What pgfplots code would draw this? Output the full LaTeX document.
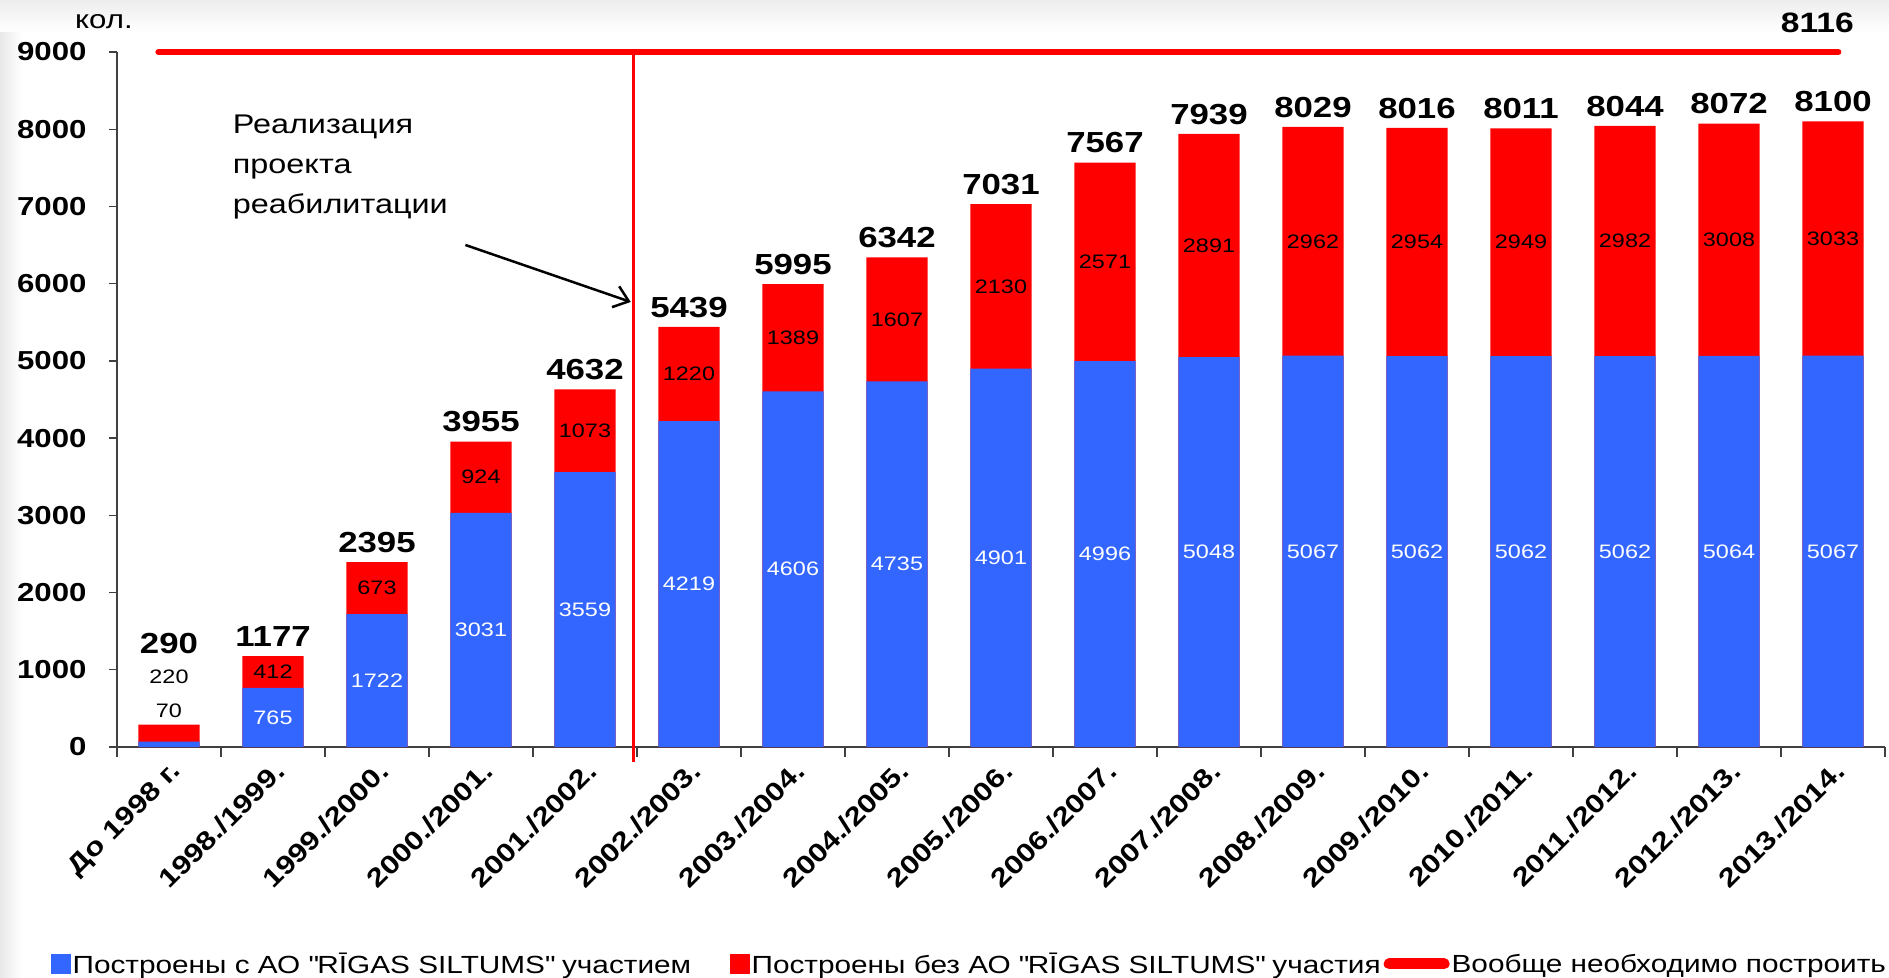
\documentclass[border=0pt]{standalone}
\usepackage{fontspec}
\setmainfont{Liberation Sans}[FakeStretch=1.2]
\usepackage{pgfplots}
\pgfplotsset{compat=1.18}
\usetikzlibrary{arrows.meta}
\definecolor{barblue}{RGB}{51,102,255}
\definecolor{barred}{RGB}{255,0,0}
\newcommand{\fs}[1]{\fontsize{#1}{#1}\selectfont}
\newcommand{\q}{\textquotedbl}
\begin{document}
\begin{tikzpicture}
\shade[left color=black!9, right color=white] (0pt,0pt) rectangle (22pt,977pt);
\shade[top color=black!7, bottom color=white] (0pt,945pt) rectangle (1889pt,977pt);
\begin{axis}[
  at={(117pt,230pt)}, anchor=south west,
  scale only axis, width=1768pt, height=695pt,
  xmin=-0.5, xmax=16.5, ymin=0, ymax=9000,
  ybar, bar width=0.59, bar shift=0pt,
  clip=false,
  axis x line*=bottom, axis y line*=left,
  axis line style={line width=1.6pt, black!75},
  ytick={0,1000,...,9000},
  yticklabel style={font=\bfseries\fs{26}, xshift=-19pt},
  /pgf/number format/assume math mode=true,
  /pgf/number format/1000 sep={},
  xtick={0,1,...,16},
  xticklabels={До 1998 г.,1998./1999.,1999./2000.,2000./2001.,2001./2002.,2002./2003.,2003./2004.,2004./2005.,2005./2006.,2006./2007.,2007./2008.,2008./2009.,2009./2010.,2010./2011.,2011./2012.,2012./2013.,2013./2014.},
  xticklabel style={font=\bfseries\fs{26}, rotate=45, anchor=north east},
  minor xtick={-0.5,0.5,...,16.5},
  major x tick style={draw=none},
  tick align=outside, major tick length=8pt, minor tick length=10pt,
  tick style={black!75, line width=1.4pt},
  legend style={draw=none, fill=none, at={(-0.039,-0.312)}, anchor=west,
    font=\fs{24.8}, legend columns=3,
    /tikz/every even column/.append style={column sep=1pt}},
  legend cell align=left,
]
\addlegendimage{legend image code/.code={\fill[barblue] (0pt,-9.5pt) rectangle (19pt,9.5pt);}}
\addlegendentry{Построены с АО \q RĪGAS SILTUMS\q{} участием\rule{36pt}{0pt}}
\addlegendimage{legend image code/.code={\fill[barred] (0pt,-9.5pt) rectangle (19pt,9.5pt);}}
\addlegendentry{Построены без АО \q RĪGAS SILTUMS\q{} участия}
% totals (red part on top)
\addplot[fill=barred, draw=none, forget plot] coordinates {
 (0,290) (1,1177) (2,2395) (3,3955) (4,4632) (5,5439) (6,5995) (7,6342) (8,7031)
 (9,7567) (10,7939) (11,8029) (12,8016) (13,8011) (14,8044) (15,8072) (16,8100)};
% with participation
\addplot[fill=barblue, draw=none, forget plot] coordinates {
 (0,70) (1,765) (2,1722) (3,3031) (4,3559) (5,4219) (6,4606) (7,4735) (8,4901)
 (9,4996) (10,5048) (11,5067) (12,5062) (13,5062) (14,5062) (15,5064) (16,5067)};
% needed in total
\addplot[sharp plot, barred, line width=6.5pt, line cap=round,
  legend image code/.code={\draw[barred, line width=11pt, line cap=round] (6pt,0pt) -- (61pt,0pt);}]
  coordinates {(-0.1,9000) (16.05,9000)};
\addlegendentry{Вообще необходимо построить}

\foreach \i/\b/\r/\t in {1/765/412/1177, 2/1722/673/2395, 3/3031/924/3955, 4/3559/1073/4632,
  5/4219/1220/5439, 6/4606/1389/5995, 7/4735/1607/6342, 8/4901/2130/7031, 9/4996/2571/7567,
  10/5048/2891/7939, 11/5067/2962/8029, 12/5062/2954/8016, 13/5062/2949/8011,
  14/5062/2982/8044, 15/5064/3008/8072, 16/5067/3033/8100} {
  \pgfmathsetmacro\yb{\b/2}
  \pgfmathsetmacro\yr{\b+\r/2}
  \pgfmathsetmacro\yt{\t+255}
  \edef\tmp{\noexpand\node[font=\noexpand\fs{19.5}, text=white] at (axis cs:\i,\yb) {\b};
    \noexpand\node[font=\noexpand\fs{19.5}] at (axis cs:\i,\yr) {\r};
    \noexpand\node[font=\noexpand\bfseries\noexpand\fs{29}] at (axis cs:\i,\yt) {\t};}
  \tmp
}
\node[font=\fs{19.5}] at (axis cs:0,465) {70};
\node[font=\fs{19.5}] at (axis cs:0,905) {220};
\node[font=\bfseries\fs{29}] at (axis cs:0,1336) {290};
\node[font=\bfseries\fs{28}] at (axis cs:15.85,9376) {8116};
\node[font=\fs{26}] at (axis cs:-0.625,9389) {кол.};
\draw[barred, line width=3pt] (axis cs:4.47,9000) -- (axis cs:4.47,-195);
\node[anchor=base west, align=left, font=\fontsize{27}{40}\selectfont] at (axis cs:0.58,6909) {Реализация\\проекта\\реабилитации};
\draw[line width=2.5pt, -{Straight Barb[length=14pt, width=22pt]}] (axis cs:2.85,6501) -- (axis cs:4.44,5763);
\end{axis}
\pgfresetboundingbox
\path (0pt,0pt) rectangle (1889pt,977pt);
\end{tikzpicture}
\end{document}
